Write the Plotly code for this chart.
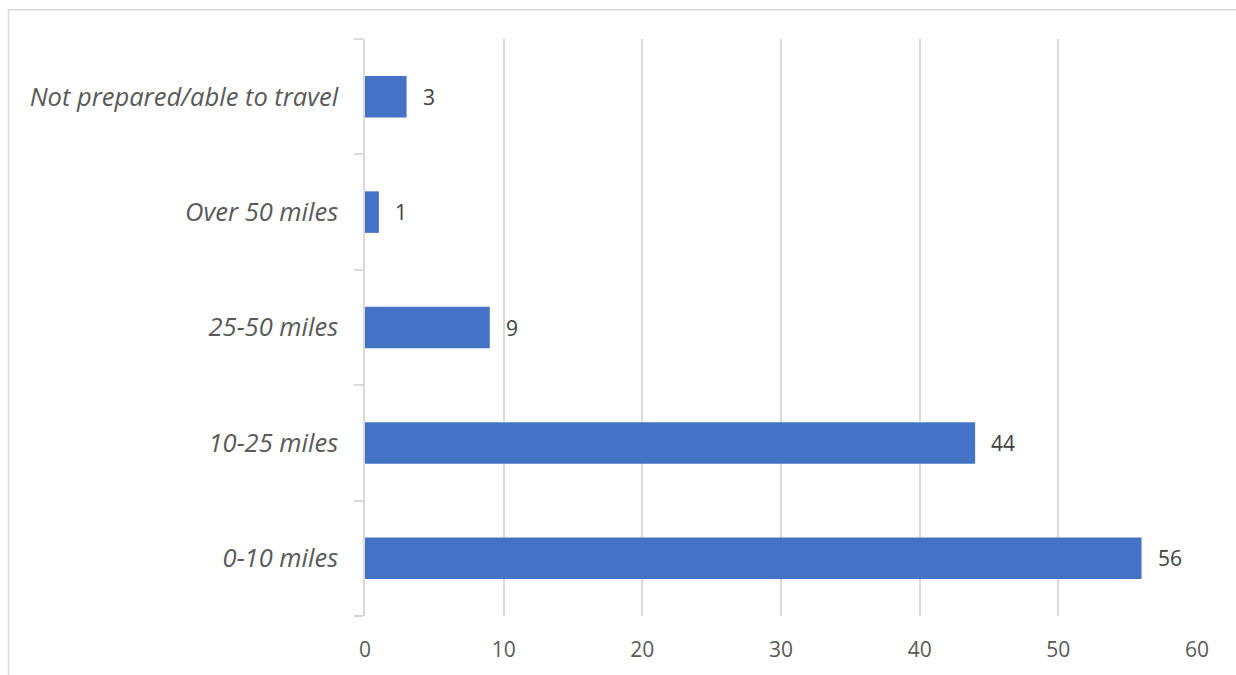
import plotly.graph_objects as go

categories = ["0-10 miles", "10-25 miles", "25-50 miles", "Over 50 miles", "Not prepared/able to travel"]
values = [56, 44, 9, 1, 3]
x_ticks = [0, 10, 20, 30, 40, 50, 60]

W, H = 1236, 675
L, R, T, B = 365, 39, 39, 56
FONT = "Open Sans"

fig = go.Figure()
fig.add_trace(go.Bar(
    y=categories, x=values, orientation="h",
    marker=dict(color="#4472C4", line=dict(width=0)),
    hoverinfo="skip",
))

for c, v in zip(categories, values):
    fig.add_annotation(x=v, y=c, text=str(v), showarrow=False, xanchor="left",
                       xshift=14, font=dict(family=FONT, size=21, color="#404040"))

pw = W - L - R
ph = H - T - B
# outer chart border (only left and top edges fall inside the image)
fig.add_shape(type="rect", xref="paper", yref="paper",
              x0=(8.5 - L) / pw, x1=(W + 50 - L) / pw,
              y0=-(B + 50) / ph, y1=1 + (T - 9.5) / ph,
              line=dict(color="#d9d9d9", width=1.5), layer="below")

fig.update_layout(
    width=W, height=H,
    margin=dict(l=L, r=R, t=T, b=B, pad=0),
    paper_bgcolor="white", plot_bgcolor="white",
    bargap=0.64,
    showlegend=False,
    font=dict(family=FONT, size=21, color="#595959"),
    xaxis=dict(range=[0, 60], tickvals=x_ticks, showgrid=True, gridcolor="#d9d9d9", gridwidth=1.5,
               zeroline=False, showline=False, ticks="", ticklabelstandoff=19,
               tickfont=dict(family=FONT, size=21, color="#595959")),
    yaxis=dict(type="category", categoryorder="array", categoryarray=categories,
               showline=True, linecolor="#d9d9d9", linewidth=1.5,
               ticks="outside", tickson="boundaries", ticklen=9, tickcolor="#d9d9d9", tickwidth=1.5,
               ticklabelstandoff=20, showgrid=False,
               tickfont=dict(family=FONT, size=25.5, color="#595959", style="italic")),
)

fig.write_html("out.html")
